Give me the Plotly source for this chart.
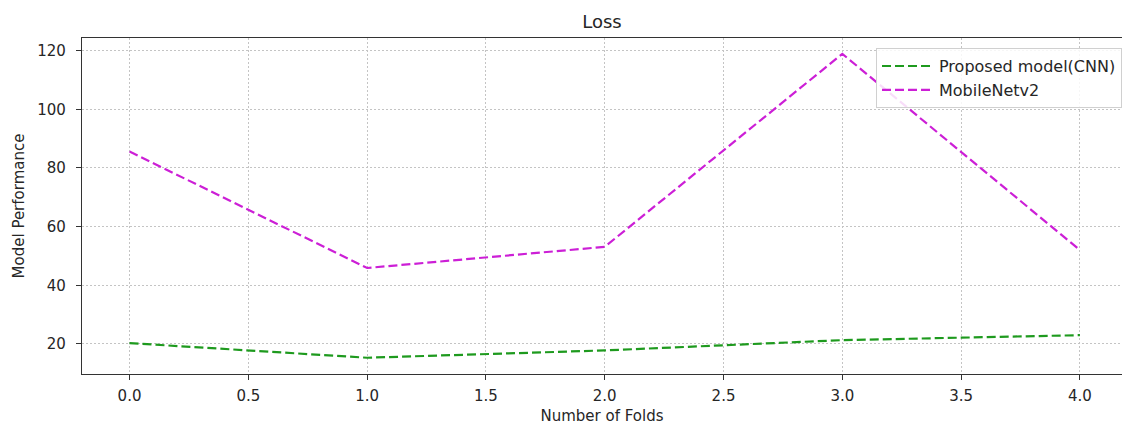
import plotly.graph_objects as go

folds = [0, 1, 2, 3, 4]
cnn_loss = [20.3, 15.3, 17.8, 21.3, 23.0]
mobilenet_loss = [85.6, 45.9, 53.1, 118.9, 52.0]
series_names = ["Proposed model(CNN)", "MobileNetv2"]
x_ticks = [0.0, 0.5, 1.0, 1.5, 2.0, 2.5, 3.0, 3.5, 4.0]
y_ticks = [20, 40, 60, 80, 100, 120]

FONT = "DejaVu Sans"
TXT = "#262626"

fig = go.Figure()
fig.add_trace(go.Scatter(x=folds, y=cnn_loss, mode="lines", name=series_names[0],
                         line=dict(color="#1e9a1e", width=2.2, dash="9px,4px")))
fig.add_trace(go.Scatter(x=folds, y=mobilenet_loss, mode="lines", name=series_names[1],
                         line=dict(color="#cc1fd6", width=2.2, dash="9px,4px")))

fig.update_layout(
    width=1122, height=426,
    margin=dict(l=82, r=0, t=38, b=52),
    paper_bgcolor="white", plot_bgcolor="white",
    font=dict(family=FONT, size=15, color=TXT),
    title=dict(text="Loss", x=0.5, xanchor="center", xref="paper",
               y=1 - 22 / 426, yref="container", yanchor="middle",
               font=dict(size=18, color=TXT)),
    legend=dict(x=1.0, xanchor="right", y=0.97, yanchor="top",
                bgcolor="rgba(255,255,255,0.85)", bordercolor="#d0d0d0", borderwidth=1,
                font=dict(size=16, color=TXT), itemwidth=52, tracegroupgap=0),
    showlegend=True,
)
fig.update_xaxes(
    range=[-0.2, 4.177], tickvals=x_ticks, ticktext=[f"{v:.1f}" for v in x_ticks],
    showline=True, linecolor="#333333", linewidth=1.3, mirror=True,
    ticks="outside", ticklen=5, tickcolor="#333333", tickwidth=1.2,
    showgrid=True, gridcolor="#c4c4c4", gridwidth=1, griddash="2px,2px",
    zeroline=False, tickfont=dict(size=15, color=TXT), ticklabelstandoff=3,
    title=dict(text="Number of Folds", font=dict(size=15, color=TXT), standoff=6),
)
fig.update_yaxes(
    range=[9.76, 124.3], tickvals=y_ticks,
    showline=True, linecolor="#333333", linewidth=1.3, mirror=False,
    ticks="outside", ticklen=5, tickcolor="#333333", tickwidth=1.2,
    showgrid=True, gridcolor="#c4c4c4", gridwidth=1, griddash="2px,2px",
    zeroline=False, tickfont=dict(size=15, color=TXT), ticklabelstandoff=7,
    title=dict(text="Model Performance", font=dict(size=15, color=TXT), standoff=8),
)

fig.write_html("out.html")
